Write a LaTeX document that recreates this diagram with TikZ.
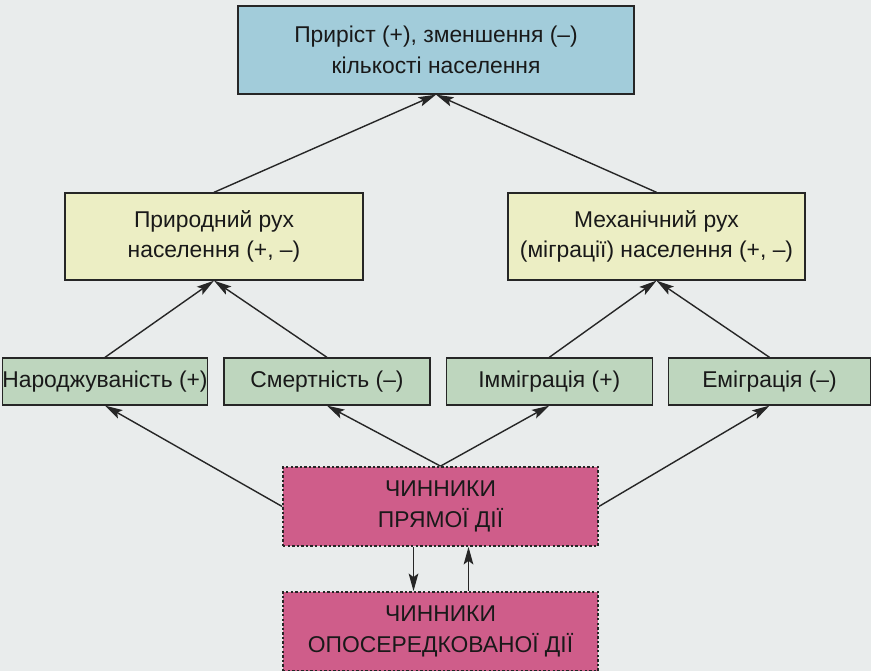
\documentclass[tikz,border=0pt]{standalone}
\usepackage{fontspec}
\setmainfont{Liberation Sans}
\usepackage{xcolor}
\usetikzlibrary{arrows.meta,calc,positioning}

\definecolor{paper}{HTML}{E9ECEC}
\definecolor{topblue}{HTML}{A2CCDA}
\definecolor{moveyellow}{HTML}{ECEEC4}
\definecolor{partgreen}{HTML}{BED6BE}
\definecolor{factorpink}{HTML}{CF5D8A}

\begin{document}
\begin{tikzpicture}[
  x=0.02cm,y=-0.02cm,
  box/.style={draw=black!85,line width=0.75pt,align=center,inner sep=0pt,
    font=\fontsize{13}{17.5}\selectfont,text=black!90},
  part/.style={box,fill=partgreen,minimum height=0.94cm},
  factor/.style={box,fill=factorpink,dash pattern=on 1.4pt off 1.2pt,line width=1pt,
    minimum width=6.3cm,minimum height=1.58cm},
  arr/.style={-{Stealth[length=10pt,width=5.5pt,inset=2pt]},line width=0.8pt,black!85}
]
\fill[paper] (0,0) rectangle (871,671);
\useasboundingbox (0,0) rectangle (871,671);

% result
\node[box,fill=topblue,minimum width=7.92cm,minimum height=1.76cm] (total) at (436,50)
  {Приріст (+), зменшення (–)\\кількості населення};

% two kinds of movement
\node[box,fill=moveyellow,minimum width=5.96cm,minimum height=1.74cm] (natural) at (214,236.5)
  {Природний рух\\населення (+, –)};
\node[box,fill=moveyellow,minimum width=5.94cm,minimum height=1.74cm] (mechanic) at (656.5,236.5)
  {Механічний рух\\(міграції) населення (+, –)};

% components
\node[part,minimum width=4.08cm] (birth) at (105,381.5) {Народжуваність (+)};
\node[part,minimum width=4.12cm,right=3mm of birth] (death) {Смертність (–)};
\node[part,minimum width=4.12cm,right=3mm of death] (immig) {Імміграція (+)};
\node[part,minimum width=4.04cm,right=3mm of immig] (emig) {Еміграція (–)};

% factors
\node[factor] (direct) at (440.5,506.5) {ЧИННИКИ\\ПРЯМОЇ ДІЇ};
\node[factor] (indirect) at (440.5,631.5) {ЧИННИКИ\\ОПОСЕРЕДКОВАНОЇ ДІЇ};

\draw[arr] (natural.north) -- (total.south);
\draw[arr] (mechanic.north) -- (total.south);
\draw[arr] (birth.north) -- (natural.south);
\draw[arr] (death.north) -- (natural.south);
\draw[arr] (immig.north) -- (mechanic.south);
\draw[arr] (emig.north) -- (mechanic.south);
\draw[arr] (direct.west) -- (birth.south);
\draw[arr] (direct.north) -- (death.south);
\draw[arr] (direct.north) -- (immig.south);
\draw[arr] (direct.east) -- (emig.south);
\draw[arr] ($(direct.south)+(-27,0)$) -- ($(indirect.north)+(-27,0)$);
\draw[arr] ($(indirect.north)+(28,0)$) -- ($(direct.south)+(28,0)$);
\end{tikzpicture}
\end{document}
